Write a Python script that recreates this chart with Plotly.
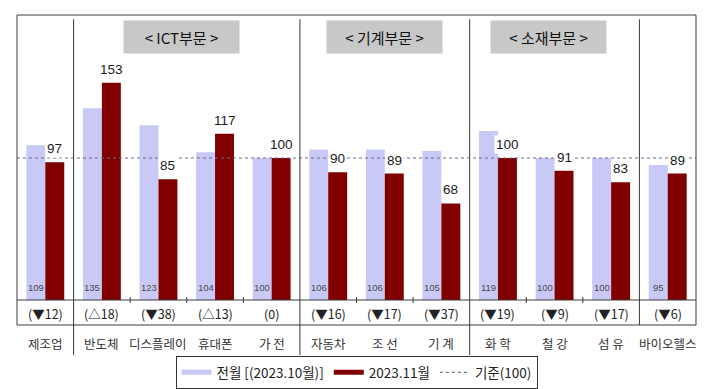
import plotly.graph_objects as go

# ---- data ----
categories = ["제조업", "반도체", "디스플레이", "휴대폰", "가 전", "자동차",
              "조 선", "기 계", "화 학", "철 강", "섬 유", "바이오헬스"]
prev_month = [109, 135, 123, 104, 100, 106, 106, 105, 119, 100, 100, 95]
this_month = [97, 153, 85, 117, 100, 90, 89, 68, 100, 91, 83, 89]
change_labels = ["(▼12)", "(△18)", "(▼38)", "(△13)", "(0)", "(▼16)",
                 "(▼17)", "(▼37)", "(▼19)", "(▼9)", "(▼17)", "(▼6)"]
group_names = ["< ICT부문 >", "< 기계부문 >", "< 소재부문 >"]
group_centers = [2.4, 6.0, 8.9]
long_separators = [0.5, 4.5, 7.5]
short_separators = [10.5]
inner_ticks = [1.5, 2.5, 3.5, 5.5, 6.5, 8.5, 9.5]
reference_value = 100
series_names = ["전월 [(2023.10월)]", "2023.11월", "기준(100)"]

LIGHT = "#c9c9f7"
DARK = "#800000"
LINE = "#3a3a3a"
FONT = "Noto Sans CJK KR"

x = list(range(len(categories)))
W, H = 702, 381
ML, MR, MT, MB = 9, 14, 7, 89
plot_h = H - MT - MB

def py(pixels_below_axis):
    return -pixels_below_axis / plot_h

fig = go.Figure()
fig.add_trace(go.Bar(x=x, y=prev_month, marker=dict(color=LIGHT, line_width=0),
                     showlegend=False, hoverinfo="skip"))
fig.add_trace(go.Bar(x=x, y=this_month, marker=dict(color=DARK, line_width=0),
                     showlegend=False, hoverinfo="skip"))
fig.add_trace(go.Scatter(x=[-0.5, len(categories) - 0.5], y=[reference_value] * 2,
                         mode="lines", line=dict(color="#6a6a8a", width=1, dash="dot"),
                         showlegend=False, hoverinfo="skip"))
# legend-only traces (line swatches)
fig.add_trace(go.Scatter(x=[None], y=[None], mode="lines", name=series_names[0],
                         line=dict(color=LIGHT, width=5)))
fig.add_trace(go.Scatter(x=[None], y=[None], mode="lines", name=series_names[1],
                         line=dict(color=DARK, width=5)))
fig.add_trace(go.Scatter(x=[None], y=[None], mode="lines", name=series_names[2],
                         line=dict(color="#555", width=1, dash="dot")))

annotations = []
half = 0.67 / 4
for i in x:
    annotations.append(dict(x=i + half, y=this_month[i], xref="x", yref="y",
                            text=str(this_month[i]), showarrow=False,
                            yanchor="bottom", yshift=4, bgcolor="white", borderpad=1,
                            font=dict(family="Liberation Sans, Arial", size=13.5, color="#1a1a1a")))
    annotations.append(dict(x=i - half, y=0, xref="x", yref="y",
                            text=str(prev_month[i]), showarrow=False,
                            yanchor="bottom", yshift=5,
                            font=dict(family="Liberation Sans, Arial", size=9.5, color="#4a4a4a")))
    annotations.append(dict(x=i, y=py(13), xref="x", yref="paper",
                            text=change_labels[i], showarrow=False, yanchor="middle",
                            font=dict(family=FONT, size=12.5, color="#222")))
    annotations.append(dict(x=i, y=py(43), xref="x", yref="paper",
                            text=categories[i], showarrow=False, yanchor="middle",
                            font=dict(family=FONT, size=12.5, color="#333")))
for name, cx in zip(group_names, group_centers):
    annotations.append(dict(x=cx, y=(plot_h - 22) / plot_h, xref="x", yref="paper",
                            text=name, showarrow=False, yanchor="middle",
                            width=113, height=30, bgcolor="#c8c8c8",
                            font=dict(family=FONT, size=15, color="#111")))

shapes = []
# outer box down to the change row
shapes.append(dict(type="rect", xref="paper", yref="paper", x0=0, x1=1, y0=py(25), y1=1,
                   line=dict(color=LINE, width=1)))
# axis baseline
shapes.append(dict(type="line", xref="paper", yref="paper", x0=0, x1=1, y0=0, y1=0,
                   line=dict(color=LINE, width=1)))
for s in long_separators:
    shapes.append(dict(type="line", xref="x", yref="paper", x0=s, x1=s, y0=py(55), y1=0.985,
                       line=dict(color=LINE, width=1)))
for s in short_separators:
    shapes.append(dict(type="line", xref="x", yref="paper", x0=s, x1=s, y0=py(25), y1=0.985,
                       line=dict(color=LINE, width=1)))
for t in inner_ticks:
    shapes.append(dict(type="line", xref="x", yref="paper", x0=t, x1=t, y0=py(3), y1=py(-3),
                       line=dict(color=LINE, width=1)))

fig.update_layout(
    width=W, height=H,
    margin=dict(l=ML, r=MR, t=MT, b=MB, autoexpand=False),
    paper_bgcolor="white", plot_bgcolor="white",
    barmode="group", bargap=0.33, bargroupgap=0,
    xaxis=dict(range=[-0.5, len(categories) - 0.5], showticklabels=False, showgrid=False,
               zeroline=False, showline=False, ticks=""),
    yaxis=dict(range=[0, 200.7], showticklabels=False, showgrid=False, zeroline=False,
               showline=False, ticks=""),
    annotations=annotations, shapes=shapes,
    showlegend=True,
    legend=dict(orientation="h", x=0.5, xanchor="center", y=py(56), yanchor="top",
                bordercolor="#333", borderwidth=1, bgcolor="white",
                font=dict(family=FONT, size=13.5, color="#222"),
                itemwidth=30, tracegroupgap=0),
    font=dict(family=FONT),
)

fig.write_html("out.html")
